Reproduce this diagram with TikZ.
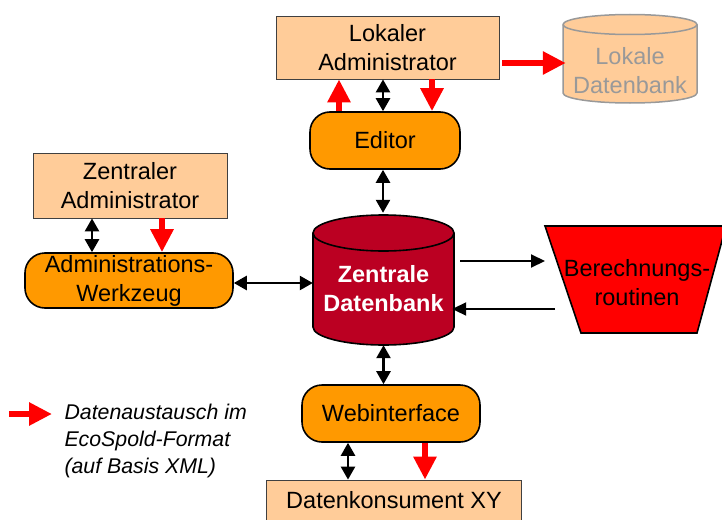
\documentclass[tikz,border=0pt]{standalone}
\usepackage{fontspec}
\setmainfont{Liberation Sans}
\usetikzlibrary{arrows.meta,calc}
\definecolor{peach}{HTML}{FFCC99}
\definecolor{orng}{HTML}{FF9900}
\definecolor{dbred}{HTML}{BB0022}
\definecolor{arrred}{HTML}{FF0000}
\definecolor{ghost}{HTML}{999999}
\begin{document}
\begin{tikzpicture}[x=1pt,y=1pt,
  font=\fontsize{23.5}{29}\selectfont,
  pbox/.style={rectangle, fill=peach, draw=black!75, line width=0.8pt, align=center, inner sep=0pt},
  obox/.style={rectangle, rounded corners=20pt, fill=orng, draw=black, line width=1.6pt, align=center, inner sep=0pt},
  redarrow/.style={draw=arrred, line width=6pt, -{Triangle[length=23pt,width=22pt]}},
  dblarrow/.style={draw=black, line width=2.5pt, {Triangle[length=13pt,width=14pt]}-{Triangle[length=13pt,width=14pt]}},
  blkarrow/.style={draw=black, line width=2pt, -{Triangle[length=14pt,width=13pt]}}
]
\clip (0,0) rectangle (722,-519);
\fill[white] (0,0) rectangle (722,-519);

% boxes
\node[pbox, minimum width=223pt, minimum height=63pt] (lokal) at (387.5,-47.5) {Lokaler\\Administrator};
\node[obox, minimum width=150pt, minimum height=57pt] (editor) at (385,-140.5) {Editor};
\node[pbox, minimum width=194pt, minimum height=65pt] (zadmin) at (130,-185.5) {Zentraler\\Administrator};
\node[obox, minimum width=208pt, minimum height=55pt] (werk) at (129,-280.5) {Administrations-\\Werkzeug};
\node[obox, minimum width=178pt, minimum height=57pt] (web) at (391,-413.5) {Webinterface};
\node[pbox, minimum width=255pt, minimum height=40pt] (konsum) at (394,-500) {Datenkonsument XY};

% Lokale Datenbank (cylinder)
\node[minimum width=134pt, minimum height=90pt, inner sep=0pt] (ldb) at (630,-58) {};
\draw[ghost, fill=peach, line width=1.5pt]
  (563,-24.5) -- (563,-93) arc[start angle=180,end angle=360,x radius=67,y radius=10]
  -- (697,-24.5) arc[start angle=0,end angle=180,x radius=67,y radius=10] -- cycle;
\draw[ghost, line width=1.5pt] (563,-24.5) arc[start angle=180,end angle=360,x radius=67,y radius=10];
\node[text=ghost, align=center] (ldbtext) at (630,-71) {Lokale\\Datenbank};

% Zentrale Datenbank (cylinder)
\node[minimum width=141pt, minimum height=130pt, inner sep=0pt] (zdb) at (383.5,-280) {};
\draw[black, fill=dbred, line width=1.6pt]
  (313,-233) -- (313,-327) arc[start angle=180,end angle=360,x radius=70.5,y radius=18]
  -- (454,-233) arc[start angle=0,end angle=180,x radius=70.5,y radius=18] -- cycle;
\draw[black, line width=1.6pt] (313,-233) arc[start angle=180,end angle=360,x radius=70.5,y radius=18];
\node[text=white, align=center, font=\bfseries\fontsize{23.5}{29}\selectfont] (zdbtext) at (383.5,-289) {Zentrale\\Datenbank};

% Berechnungsroutinen (trapezoid)
\draw[black, fill=arrred, line width=1.6pt] (545,-226) -- (726,-226) -- (697,-333) -- (581,-333) -- cycle;
\node[align=center] (calc) at (637,-283) {Berechnungs-\\routinen};
\coordinate (calcin) at (545,-261);
\coordinate (calcout) at (555,-309);

% connectors: Lokaler Administrator / Editor
\draw[redarrow] ([xshift=-46pt]editor.north) -- ([xshift=-46pt]editor.north |- lokal.south);
\draw[dblarrow] ([xshift=-2pt]editor.north) -- ([xshift=-2pt]editor.north |- lokal.south);
\draw[redarrow] ([xshift=47pt]editor.north |- lokal.south) -- ([xshift=47pt]editor.north);
\draw[redarrow] ([shift={(3pt,-15.5pt)}]lokal.east) -- ([shift={(3pt,-15.5pt)}]lokal.east -| ldb.west);

% Editor / Zentrale Datenbank
\draw[dblarrow] ([xshift=-2pt]editor.south) -- ([xshift=-2pt,yshift=2pt]editor.south |- zdb.north);

% Zentraler Administrator / Werkzeug
\draw[dblarrow] ([xshift=-38pt]zadmin.south) -- ([xshift=-38pt]zadmin.south |- werk.north);
\draw[redarrow] ([xshift=32pt]zadmin.south) -- ([xshift=32pt]zadmin.south |- werk.north);

% Werkzeug / Zentrale Datenbank
\draw[dblarrow] ([yshift=-2.5pt]werk.east) -- ([yshift=-2.5pt]werk.east -| zdb.west);

% Zentrale Datenbank / Berechnungsroutinen
\draw[blkarrow] ([shift={(6pt,19pt)}]zdb.east) -- (calcin);
\draw[blkarrow] (calcout) -- ([shift={(-2pt,-29pt)}]zdb.east);

% Zentrale Datenbank / Webinterface
\draw[dblarrow] (zdb.south) -- (zdb.south |- web.north);

% Webinterface / Datenkonsument
\draw[dblarrow] ([xshift=-43pt]web.south) -- ([xshift=-43pt]web.south |- konsum.north);
\draw[redarrow] ([xshift=34pt]web.south) -- ([xshift=34pt]web.south |- konsum.north);

% legend
\coordinate (lega) at (9,-414);
\coordinate (legb) at (52,-414);
\draw[redarrow] (lega) -- (legb);
\node[anchor=west, align=left, font=\itshape\fontsize{21.3}{27}\selectfont] (legend) at (61,-441) {Datenaustausch im\\EcoSpold-Format\\(auf Basis XML)};
\end{tikzpicture}
\end{document}
